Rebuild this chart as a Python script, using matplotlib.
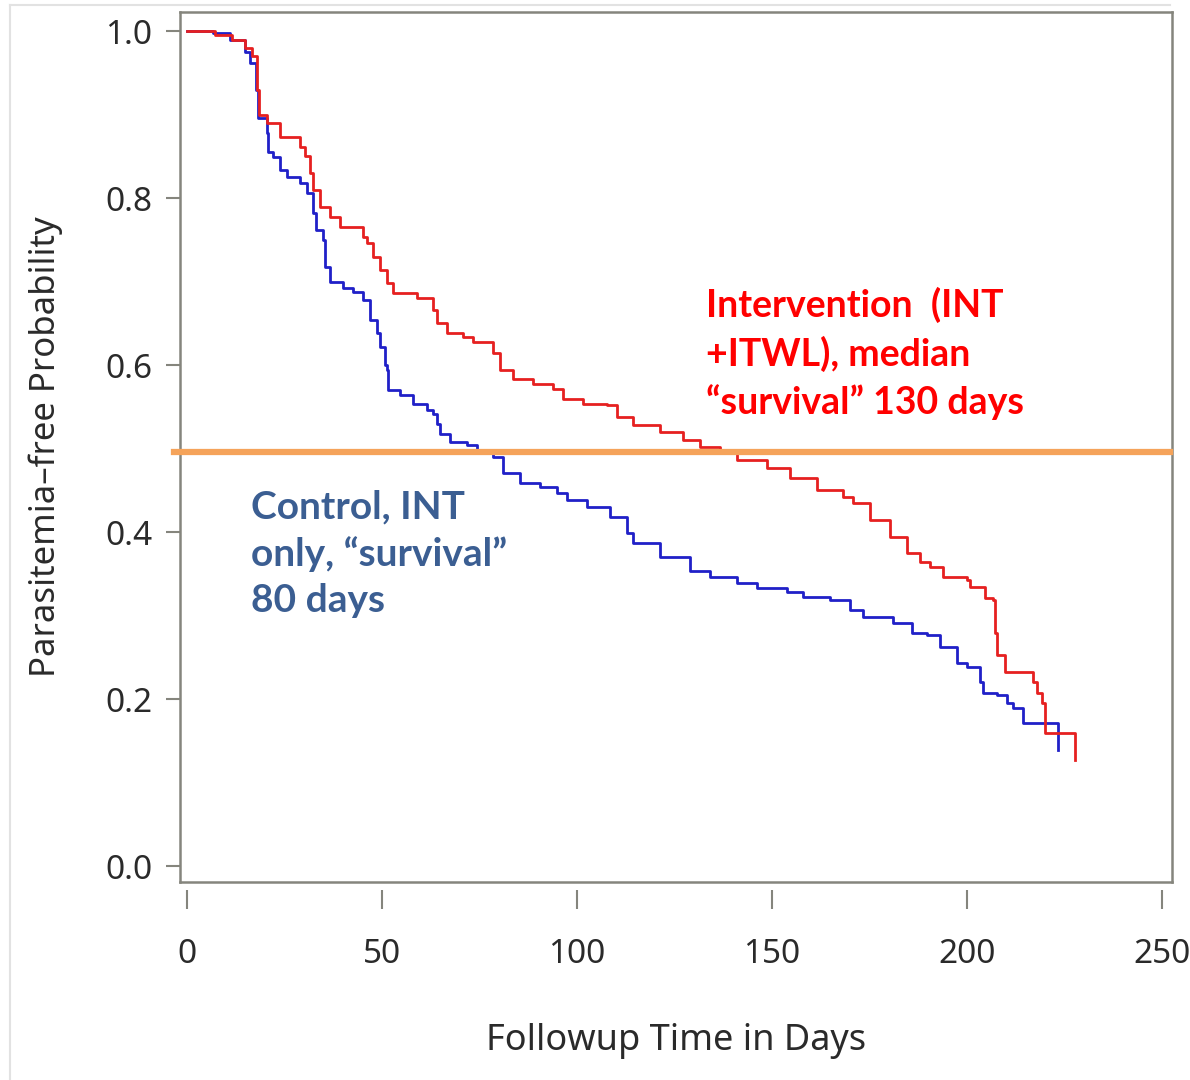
import matplotlib.pyplot as plt
from matplotlib.lines import Line2D

# Kaplan-Meier curves (day, survival probability)
int_days = [0, 7.2, 11.5, 14.9, 16.7, 17.9, 18.5, 20.5, 23.8, 29.0, 30.3, 31.5,
            32.3, 34.1, 36.7, 39.2, 45.1, 46.2, 47.7, 49.5, 51.3, 52.8, 59.0,
            63.1, 64.1, 66.7, 70.8, 73.3, 78.5, 80.3, 83.6, 88.7, 93.8, 96.4,
            101.5, 107.7, 110.3, 114.4, 121.3, 127.2, 131.5, 136.7, 141.0,
            148.7, 154.6, 161.5, 168.2, 170.8, 175.1, 180.3, 184.6, 187.9,
            190.5, 193.8, 200.0, 200.8, 204.6, 206.7, 207.2, 207.7, 209.7,
            216.9, 217.9, 219.2, 220.0, 227.7]
int_surv = [1.0, 0.995, 0.99, 0.98, 0.97, 0.93, 0.90, 0.89, 0.873, 0.861, 0.85,
            0.83, 0.81, 0.79, 0.777, 0.765, 0.753, 0.746, 0.73, 0.714, 0.698,
            0.686, 0.68, 0.666, 0.65, 0.638, 0.634, 0.628, 0.614, 0.594, 0.584,
            0.578, 0.572, 0.56, 0.554, 0.552, 0.538, 0.528, 0.52, 0.51, 0.502,
            0.496, 0.486, 0.477, 0.465, 0.45, 0.442, 0.435, 0.414, 0.394,
            0.375, 0.364, 0.358, 0.346, 0.343, 0.334, 0.321, 0.319, 0.279,
            0.253, 0.232, 0.22, 0.207, 0.195, 0.16, 0.127]

ctl_days = [0, 6.7, 11.0, 14.9, 16.2, 17.7, 18.2, 20.5, 20.8, 22.1, 23.8, 25.6,
            29.0, 30.8, 32.3, 33.1, 34.9, 35.4, 36.7, 40.0, 42.6, 45.1, 46.9,
            48.7, 49.5, 50.8, 51.3, 51.5, 54.6, 57.9, 61.5, 63.1, 64.1, 64.9,
            67.4, 71.8, 74.4, 78.5, 81.0, 85.4, 90.5, 94.9, 97.4, 102.6, 108.5,
            112.8, 114.4, 121.3, 129.0, 134.1, 141.0, 146.2, 153.8, 157.9,
            164.9, 170.0, 173.3, 181.0, 185.9, 189.7, 193.1, 197.4, 200.0,
            203.3, 204.1, 207.7, 210.3, 211.8, 214.4, 223.3]
ctl_surv = [1.0, 0.998, 0.99, 0.975, 0.962, 0.93, 0.896, 0.878, 0.855, 0.849,
            0.834, 0.825, 0.818, 0.806, 0.782, 0.762, 0.75, 0.717, 0.70, 0.692,
            0.688, 0.678, 0.654, 0.638, 0.622, 0.60, 0.594, 0.570, 0.564, 0.554,
            0.546, 0.542, 0.53, 0.518, 0.508, 0.504, 0.498, 0.49, 0.471, 0.459,
            0.454, 0.447, 0.438, 0.43, 0.418, 0.399, 0.387, 0.37, 0.354, 0.346,
            0.339, 0.333, 0.328, 0.322, 0.319, 0.307, 0.298, 0.291, 0.279,
            0.277, 0.262, 0.243, 0.238, 0.22, 0.207, 0.205, 0.195, 0.189,
            0.171, 0.139]

median_line = 0.496
x_ticks = [0, 50, 100, 150, 200, 250]
y_ticks = [0.0, 0.2, 0.4, 0.6, 0.8, 1.0]

frame_col = '#85857d'
txt_col = '#2a2a2a'
axis_font = dict(family='Noto Sans', color=txt_col)

fig = plt.figure(figsize=(11.9, 10.8), dpi=100)
ax = fig.add_axes([0.1513, 0.1833, 0.8336, 0.8056])

ax.plot(ctl_days, ctl_surv, drawstyle='steps-post', color='#2020c8', lw=2.0)
ax.plot(int_days, int_surv, drawstyle='steps-post', color='#e62020', lw=2.0)
ax.axhline(median_line, xmin=-0.006, xmax=0.998, color='#f5a35a', lw=4.5,
           clip_on=False, zorder=3)

# frame drawn separately so the x ticks can sit a little below it
for s in ['top', 'right', 'left']:
    ax.spines[s].set_color(frame_col)
    ax.spines[s].set_linewidth(1.8)
ax.spines['bottom'].set_position(('outward', 6))
ax.spines['bottom'].set_visible(False)
ax.add_line(Line2D([0, 1], [0, 0], transform=ax.transAxes, color=frame_col,
                   lw=1.8, clip_on=False))

ax.set_xlim(-1.8, 252.6)
ax.set_ylim(-0.019, 1.023)
ax.set_xticks(x_ticks)
ax.set_yticks(y_ticks)
ax.set_xticklabels([str(t) for t in x_ticks], fontsize=24, **axis_font)
ax.set_yticklabels(['%.1f' % t for t in y_ticks], fontsize=24, **axis_font)

ax.tick_params(axis='y', length=10, width=1.5, color=frame_col, pad=10)
ax.tick_params(axis='x', length=14, width=1.5, color=frame_col, pad=20)

ax.set_xlabel('Followup Time in Days', fontsize=26, labelpad=38, **axis_font)
ax.set_ylabel('Parasitemia\u2013free Probability', fontsize=25, labelpad=30,
              **axis_font)

ax.text(133, 0.694, 'Intervention  (INT\n+ITWL), median\n\u201csurvival\u201d 130 days',
        color='#ff0000', fontsize=27, fontweight='bold', family='Lato',
        va='top', ha='left', linespacing=1.42)
ax.text(16.5, 0.451, 'Control, INT\nonly, \u201csurvival\u201d\n80 days',
        color='#3b5e92', fontsize=28, fontweight='bold', family='Lato',
        va='top', ha='left', linespacing=1.38)

# faint outer border of the original screenshot
fig.add_artist(Line2D([10 / 1190, 10 / 1190], [0, 1 - 5 / 1080],
                      color='#e2e2e2', lw=1.5))
fig.add_artist(Line2D([10 / 1190, 1170 / 1190], [1 - 5 / 1080, 1 - 5 / 1080],
                      color='#e2e2e2', lw=1.5))

fig.savefig('out.png', dpi=100)
